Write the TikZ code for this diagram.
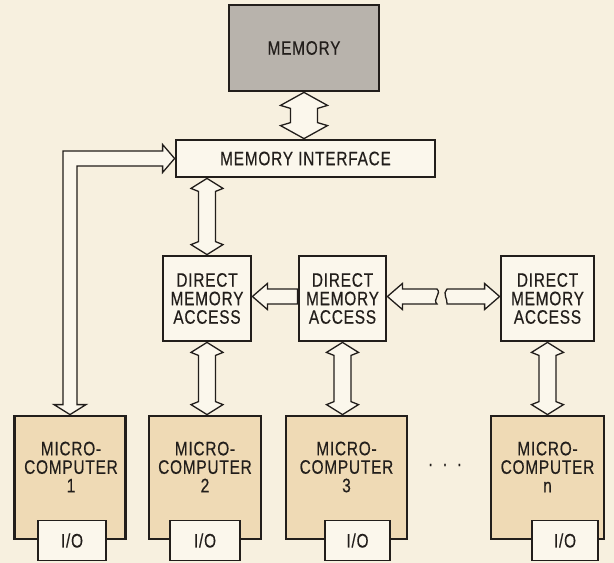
\documentclass[tikz,border=0pt]{standalone}
\usepackage{fontspec}
\setmainfont{Liberation Sans}[FakeStretch=0.79,FakeBold=0.4,LetterSpace=4]
\usetikzlibrary{calc}
\definecolor{bg}{HTML}{F7F0DF}
\definecolor{ink}{HTML}{221E1B}
\definecolor{memgray}{HTML}{B8B3AC}
\definecolor{tanfill}{HTML}{EFDAB5}
\definecolor{boxfill}{HTML}{FBF7EC}
\tikzset{
  lblfont/.style={font=\fontsize{19.5}{18.5}\selectfont},
  box/.style={draw=ink, line width=2.8pt, fill=boxfill, inner sep=0pt, lblfont, text=ink, align=center},
  membox/.style={box, fill=memgray},
  mcbox/.style={box, fill=tanfill, minimum height=123pt},
  iobox/.style={draw=ink, line width=1.8pt, fill=boxfill, inner sep=0pt, minimum height=40pt, lblfont, text=ink},
  txt/.style={lblfont, text=ink, align=center, inner sep=0pt},
  arr/.style={draw=ink, line width=1.3pt, fill=boxfill, line join=miter},
}
% vertical double-headed hollow arrow: #1 top point, #2 bottom point, #3 half shaft, #4 half head, #5 head length
\newcommand\vdarr[5]{%
  \draw[arr] let \p1=(#1), \p2=(#2) in
    (\x1,\y1) -- (\x1+#4,\y1-#5) -- (\x1+#3,\y1-#5-3pt) -- (\x1+#3,\y2+#5+3pt)
    -- (\x1+#4,\y2+#5) -- (\x1,\y2) -- (\x1-#4,\y2+#5) -- (\x1-#3,\y2+#5+3pt)
    -- (\x1-#3,\y1-#5-3pt) -- (\x1-#4,\y1-#5) -- cycle;}
\begin{document}
\begin{tikzpicture}[x=1pt,y=-1pt]
\useasboundingbox (0,0) rectangle (614,563);
\fill[bg] (0,0) rectangle (614,563);

% boxes
\node[membox, minimum width=150pt, minimum height=86pt] (mem) at (304,48) {MEMORY};
\node[box, minimum width=259pt, minimum height=37pt] (mi) at (305.5,158.5) {MEMORY INTERFACE};
\node[box, minimum width=88pt, minimum height=85pt] (dma1) at (207,298.5) {DIRECT\\MEMORY\\ACCESS};
\node[box, minimum width=87pt, minimum height=85pt] (dma2) at (342.5,298.5) {DIRECT\\MEMORY\\ACCESS};
\node[box, minimum width=93pt, minimum height=85pt] (dma3) at (547.5,298.5) {DIRECT\\MEMORY\\ACCESS};

\node[mcbox, minimum width=111pt] (mc1) at (70,477.5) {};
\node[mcbox, minimum width=112pt] (mc2) at (205,477.5) {};
\node[mcbox, minimum width=121pt] (mc3) at (346.5,477.5) {};
\node[mcbox, minimum width=113pt] (mcn) at (547.5,477.5) {};

\node[txt] (t1) at (71,467) {MICRO-\\COMPUTER\\1};
\node[txt] (t2) at (205,467) {MICRO-\\COMPUTER\\2};
\node[txt] (t3) at (346.5,467) {MICRO-\\COMPUTER\\3};
\node[txt] (tn) at (547.5,467) {MICRO-\\COMPUTER\\n};

\node[iobox, minimum width=68pt] (io1) at (72,540.5) {I/O};
\node[iobox, minimum width=70pt] (io2) at (205,540.5) {I/O};
\node[iobox, minimum width=65pt] (io3) at (357.5,540.5) {I/O};
\node[iobox, minimum width=66pt] (ion) at (565,540.5) {I/O};

\node[txt] (dots) at (445,465) {.\hspace{10pt}.\hspace{10pt}.};

% vertical double arrows
\vdarr{mem.south}{mi.north}{13.5pt}{23.5pt}{13pt}
\vdarr{mi.south-|dma1.north}{dma1.north}{8.5pt}{16pt}{10pt}
\vdarr{dma1.south}{mc2.north}{8.5pt}{16pt}{10pt}
\vdarr{dma2.south}{mc3.north}{8.5pt}{16pt}{10pt}
\vdarr{dma3.south}{mcn.north}{8.5pt}{16pt}{10pt}

% L-shaped arrow from memory interface to microcomputer 1
\draw[arr] let \p1=(mi.west), \p2=(mc1.north) in
  (\p1) -- (\x1-12pt,\y1+14pt) -- (\x1-12pt,\y1+7.5pt) -- (\x2-7pt,\y1+7.5pt)
  -- (\x2-7pt,\y2+10pt) -- (\x2-16pt,\y2+10pt) -- (\p2) -- (\x2+16pt,\y2+10pt)
  -- (\x2+7pt,\y2+10pt) -- (\x2+7pt,\y1-7.5pt) -- (\x1-12pt,\y1-7.5pt)
  -- (\x1-12pt,\y1-14pt) -- cycle;

% DMA2 -> DMA1
\draw[arr] let \p1=(dma1.east), \p2=(dma2.west) in
  (\x1,\y1+2pt) -- (\x1+15pt,\y1+15pt) -- (\x1+15pt,\y1+9.5pt) -- (\x2,\y1+9.5pt)
  -- (\x2,\y1-5.5pt) -- (\x1+15pt,\y1-5.5pt) -- (\x1+15pt,\y1-11pt) -- cycle;

% broken double arrow DMA2 <-> DMA3
\coordinate (brkL) at (437,298.5);
\coordinate (brkR) at (447,298.5);
\draw[arr] let \p1=(dma2.east), \p2=(brkL) in
  (\x1,\y1+2pt) -- (\x1+15pt,\y1+15pt) -- (\x1+15pt,\y1+9.5pt) -- (\x2,\y1+9.5pt)
  .. controls (\x2+5pt,\y1+5pt) and (\x2-5pt,\y1-1pt) .. (\x2,\y1-5.5pt)
  -- (\x1+15pt,\y1-5.5pt) -- (\x1+15pt,\y1-11pt) -- cycle;
\draw[arr] let \p1=(dma3.west), \p2=(brkR) in
  (\x1,\y1+2pt) -- (\x1-15pt,\y1+15pt) -- (\x1-15pt,\y1+9.5pt) -- (\x2,\y1+9.5pt)
  .. controls (\x2-5pt,\y1+5pt) and (\x2+1pt,\y1-1pt) .. (\x2,\y1-5.5pt)
  -- (\x1-15pt,\y1-5.5pt) -- (\x1-15pt,\y1-11pt) -- cycle;
\end{tikzpicture}
\end{document}
